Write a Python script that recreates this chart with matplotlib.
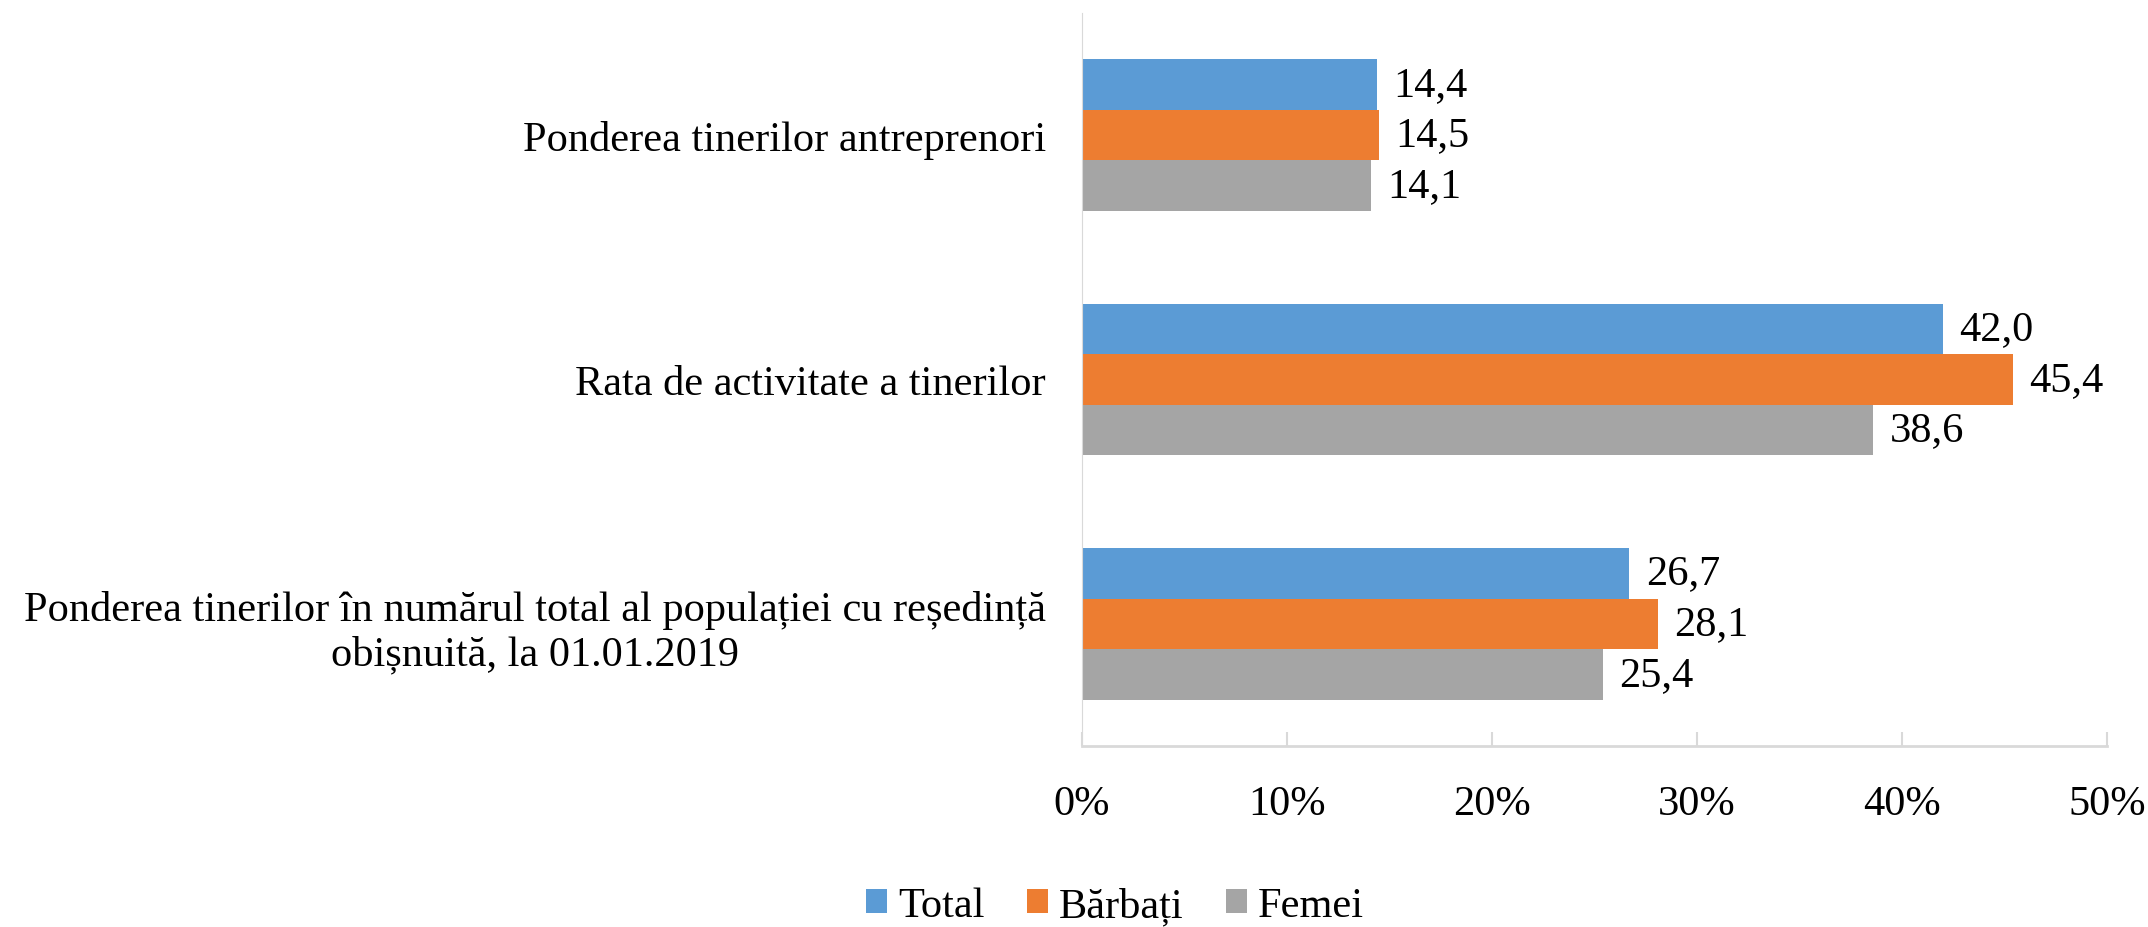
import numpy as np
import matplotlib.pyplot as plt
from matplotlib.ticker import FuncFormatter

categories = ['Ponderea tinerilor antreprenori',
              'Rata de activitate a tinerilor',
              'Ponderea tinerilor în numărul total al populației cu reședință\nobișnuită, la 01.01.2019']
series = ['Total', 'Bărbați', 'Femei']
total = [14.4, 42.0, 26.7]
barbati = [14.5, 45.4, 28.1]
femei = [14.1, 38.6, 25.4]
colors = ['#5B9BD5', '#ED7D31', '#A5A5A5']

plt.rcParams['font.family'] = ['Liberation Serif', 'DejaVu Serif']
fs = 30.5

fig = plt.figure(figsize=(21.48, 9.28), dpi=100)
ax = fig.add_axes([0.5037, 0.195, 0.4773, 0.79])

y = np.arange(len(categories))
h = 0.207
for i, (vals, name, c) in enumerate(zip([total, barbati, femei], series, colors)):
    pos = y + (i - 1) * h
    ax.barh(pos, vals, height=h, color=c, label=name)
    for p, v in zip(pos, vals):
        ax.text(v + 0.8, p, f'{v:.1f}'.replace('.', ','), va='center', ha='left', fontsize=fs)

ax.set_xlim(0, 50)
ax.set_ylim(2.5, -0.5)
ax.set_xticks(np.arange(0, 51, 10))
ax.xaxis.set_major_formatter(FuncFormatter(lambda v, p: f'{int(v)}%'))
ax.set_yticks(y)
ax.set_yticklabels(categories, multialignment='center')
ax.tick_params(axis='y', length=0, pad=26, labelsize=fs)
ax.tick_params(axis='x', direction='in', length=10, color='#d9d9d9', width=1.5, pad=28, labelsize=fs)

for s in ['top', 'right']:
    ax.spines[s].set_visible(False)
ax.spines['left'].set_color('#d9d9d9')
ax.spines['bottom'].set_color('#d9d9d9')
ax.spines['bottom'].set_linewidth(2)

fig.legend(loc='center', bbox_to_anchor=(0.519, 0.023), ncol=3, frameon=False, fontsize=fs,
           handlelength=0.5, handleheight=0.5, handletextpad=0.25, columnspacing=1.0)

plt.savefig('out.png', dpi=100)
